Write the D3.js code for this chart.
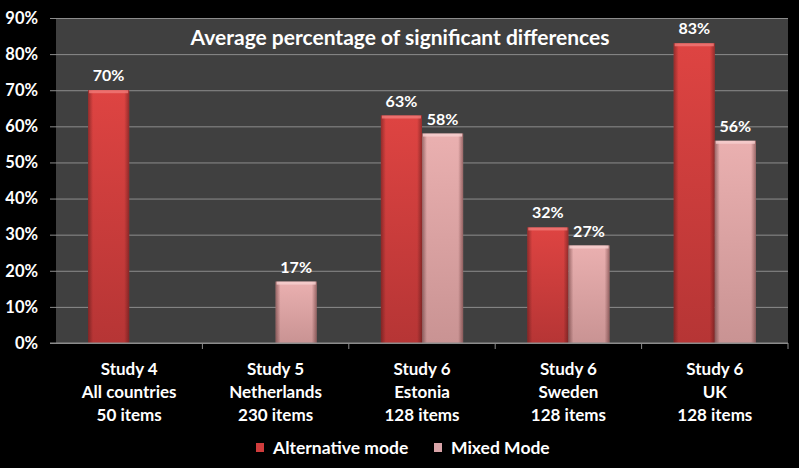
<!DOCTYPE html>
<html>
<head>
<meta charset="utf-8">
<script src="https://cdn.jsdelivr.net/npm/d3@7"></script>
<style>
  html, body { margin: 0; padding: 0; background: #000; }
  svg { display: block; font-family: Lato, "Open Sans", sans-serif; font-weight: bold; }
</style>
</head>
<body>
<svg id="chart" width="799" height="468"></svg>
<script>
const categories = [
  ["Study 4", "All countries", "50 items"],
  ["Study 5", "Netherlands", "230 items"],
  ["Study 6", "Estonia", "128 items"],
  ["Study 6", "Sweden", "128 items"],
  ["Study 6", "UK", "128 items"]
];
const seriesNames = ["Alternative mode", "Mixed Mode"];
const alternative = [70, null, 63, 32, 83];
const mixed = [null, 17, 58, 27, 56];
const yTicks = [0, 10, 20, 30, 40, 50, 60, 70, 80, 90];

const svg = d3.select("#chart");
const margin = { top: 18, right: 11, bottom: 125, left: 56 };
const width = 799 - margin.left - margin.right;
const height = 468 - margin.top - margin.bottom;

const defs = svg.append("defs");
function barGradient(id, top, bottom) {
  const g = defs.append("linearGradient").attr("id", id)
    .attr("x1", "0%").attr("y1", "0%").attr("x2", "0%").attr("y2", "100%");
  g.append("stop").attr("offset", "0%").attr("stop-color", top);
  g.append("stop").attr("offset", "100%").attr("stop-color", bottom);
}
function sideGradient(id, edge) {
  const g = defs.append("linearGradient").attr("id", id)
    .attr("x1", "0%").attr("y1", "0%").attr("x2", "100%").attr("y2", "0%");
  g.append("stop").attr("offset", "0%").attr("stop-color", edge).attr("stop-opacity", 0.45);
  g.append("stop").attr("offset", "12%").attr("stop-color", edge).attr("stop-opacity", 0);
  g.append("stop").attr("offset", "88%").attr("stop-color", edge).attr("stop-opacity", 0);
  g.append("stop").attr("offset", "100%").attr("stop-color", edge).attr("stop-opacity", 0.45);
}
barGradient("altFill", "#de4442", "#b63535");
barGradient("mixFill", "#eab0b0", "#c99393");
sideGradient("sideShade", "#3a1010");

const colors = { "Alternative mode": "url(#altFill)", "Mixed Mode": "url(#mixFill)" };
const tops = { "Alternative mode": "#f07a78", "Mixed Mode": "#f6d0d0" };
const legendColors = { "Alternative mode": "#d03c3c", "Mixed Mode": "#d9a4a8" };

const g = svg.append("g").attr("transform", `translate(${margin.left},${margin.top})`);

const x0 = d3.scaleBand().domain(d3.range(categories.length)).range([0, width]);
const x1 = d3.scaleBand().domain(seriesNames).range([0, x0.bandwidth()]).paddingInner(0).paddingOuter(0.78);
const y = d3.scaleLinear().domain([0, 90]).range([height, 0]);

g.append("rect").attr("width", width).attr("height", height).attr("fill", "#404040");

const yAxis = d3.axisLeft(y).tickValues(yTicks).tickSize(-width - 6).tickPadding(12)
  .tickFormat((d) => d + "%");
g.append("g").attr("class", "y-axis")
  .call((sel) => {
    sel.call(yAxis);
    sel.select(".domain").remove();
    sel.selectAll(".tick line").attr("stroke", "#8c8c8c").attr("stroke-width", 1)
      .attr("x1", -6).attr("x2", width);
    sel.selectAll(".tick text").attr("fill", "#fff").attr("font-size", 16.5)
      .attr("font-family", "Lato, 'Open Sans', sans-serif").attr("font-weight", "bold")
      .attr("x", -18);
  });

const data = seriesNames.map((name, i) => ({
  name,
  values: (i === 0 ? alternative : mixed)
}));

const groups = g.selectAll(".cat").data(categories).join("g")
  .attr("class", "cat")
  .attr("transform", (d, i) => `translate(${x0(i)},0)`);

groups.each(function (cat, ci) {
  const cg = d3.select(this);
  data.forEach((s) => {
    const v = s.values[ci];
    if (v == null) return;
    const bx = x1(s.name);
    const bw = x1.bandwidth();
    cg.append("rect").attr("x", bx).attr("y", y(v)).attr("width", bw).attr("height", height - y(v))
      .attr("fill", colors[s.name]);
    cg.append("rect").attr("x", bx).attr("y", y(v)).attr("width", bw).attr("height", height - y(v))
      .attr("fill", "url(#sideShade)");
    cg.append("rect").attr("x", bx + 1).attr("y", y(v)).attr("width", bw - 2).attr("height", 3)
      .attr("fill", tops[s.name]).attr("opacity", 0.8);
    cg.append("text").attr("x", bx + bw / 2).attr("y", y(v) - 9)
      .attr("text-anchor", "middle").attr("fill", "#fff").attr("font-size", 16)
      .text(v + "%");
  });
});

// x axis
const xAxisG = g.append("g").attr("transform", `translate(0,${height})`);
xAxisG.append("line").attr("x1", -6).attr("x2", width).attr("stroke", "#8c8c8c");
xAxisG.selectAll(".xtick").data(d3.range(1, categories.length + 1)).join("line")
  .attr("x1", (d) => d * x0.bandwidth()).attr("x2", (d) => d * x0.bandwidth())
  .attr("y1", 0).attr("y2", 6).attr("stroke", "#8c8c8c");

xAxisG.selectAll(".xlabel").data(categories).join("text")
  .attr("text-anchor", "middle").attr("fill", "#fff").attr("font-size", 17)
  .attr("transform", (d, i) => `translate(${x0(i) + x0.bandwidth() / 2},0)`)
  .each(function (lines) {
    const t = d3.select(this);
    lines.forEach((line, li) => {
      t.append("tspan").attr("x", 0).attr("y", 32 + li * 23).text(line);
    });
  });

// title
svg.append("text").attr("x", 400).attr("y", 45).attr("text-anchor", "middle")
  .attr("fill", "#fff").attr("font-size", 21).text("Average percentage of significant differences");

// legend
const legend = svg.append("g").attr("transform", "translate(256,443)");
const legendX = [0, 178];
seriesNames.forEach((name, i) => {
  const lg = legend.append("g").attr("transform", `translate(${legendX[i]},0)`);
  lg.append("rect").attr("width", 8).attr("height", 9).attr("fill", legendColors[name]);
  lg.append("text").attr("x", 17).attr("y", 11).attr("fill", "#fff").attr("font-size", 17.5).text(name);
});
</script>
</body>
</html>
